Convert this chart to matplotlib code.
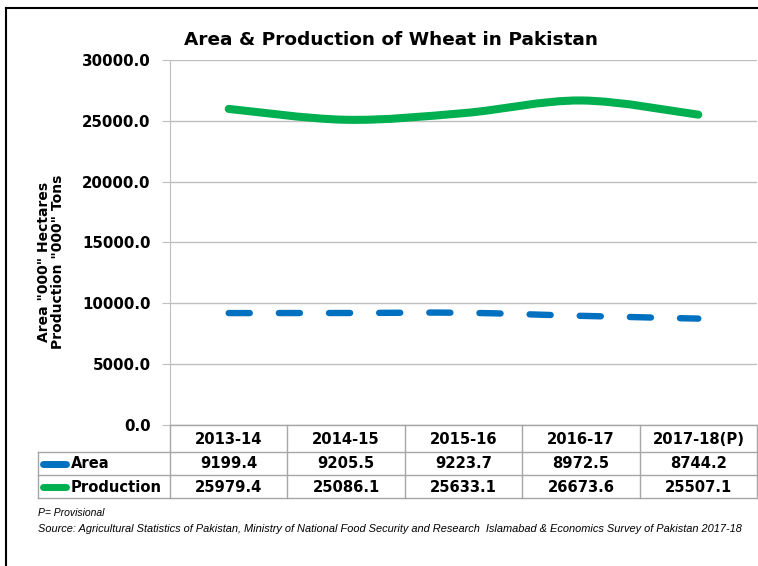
import numpy as np
import matplotlib
matplotlib.use("Agg")
import matplotlib.pyplot as plt
from matplotlib.path import Path
from matplotlib.patches import PathPatch
from matplotlib.lines import Line2D

years = ["2013-14", "2014-15", "2015-16", "2016-17", "2017-18(P)"]
area = [9199.4, 9205.5, 9223.7, 8972.5, 8744.2]
production = [25979.4, 25086.1, 25633.1, 26673.6, 25507.1]
series_names = ["Area", "Production"]
yticks = [0, 5000, 10000, 15000, 20000, 25000, 30000]

blue = "#0070c0"
green = "#00b050"
grid = "#bfbfbf"


def smooth_path(xs, ys):
    # catmull-rom style bezier through the points (like Excel's smoothed line)
    pts = np.column_stack([xs, ys]).astype(float)
    n = len(pts)
    verts = [pts[0]]
    codes = [Path.MOVETO]
    for i in range(n - 1):
        p0 = pts[i - 1] if i > 0 else pts[i]
        p1 = pts[i]
        p2 = pts[i + 1]
        p3 = pts[i + 2] if i + 2 < n else pts[i + 1]
        c1 = p1 + (p2 - p0) / 6.0
        c2 = p2 - (p3 - p1) / 6.0
        verts += [c1, c2, p2]
        codes += [Path.CURVE4] * 3
    return Path(verts, codes)


fig = plt.figure(figsize=(7.58, 5.66), dpi=100)
ax = fig.add_axes([170 / 758, 1 - 425 / 566, 587 / 758, 365 / 566])

x = np.arange(len(years))
prod_patch = PathPatch(smooth_path(x, production), fill=False, edgecolor=green,
                       lw=5.8, capstyle="round", joinstyle="round")
area_patch = PathPatch(smooth_path(x, area), fill=False, edgecolor=blue,
                       lw=4.6, capstyle="round", linestyle=(0, (3.3, 4.55)))
ax.add_patch(prod_patch)
ax.add_patch(area_patch)

ax.set_xlim(-0.5, len(years) - 0.5)
ax.set_ylim(0, 30000)
ax.set_yticks(yticks)
ax.set_yticklabels(["%.1f" % v for v in yticks], fontsize=10.8, fontweight="bold")
ax.set_xticks([])
ax.yaxis.grid(True, color=grid, lw=1)
ax.set_axisbelow(True)
for s in ["top", "right", "bottom"]:
    ax.spines[s].set_visible(False)
ax.spines["left"].set_color(grid)
ax.tick_params(axis="y", color=grid, length=6, pad=8)

fig.text(391 / 758, 1 - 40 / 566, "Area & Production of Wheat in Pakistan",
         ha="center", va="center", fontsize=13.3, fontweight="bold")
fig.text(51 / 758, 1 - 262 / 566, 'Area "000" Hectares\nProduction "000" Tons',
         ha="center", va="center", rotation=90, fontsize=10, fontweight="bold",
         linespacing=1.05)

# data table under the chart
def fy(py):
    return 1 - py / 566


def fx(px):
    return px / 758


col_edges = [170, 287, 405, 522, 640, 757]
row_y = [428, 452, 475, 498]
lc = "#a6a6a6"
for cx in col_edges:
    fig.add_artist(Line2D([fx(cx), fx(cx)], [fy(425), fy(498)], color=lc, lw=1))
fig.add_artist(Line2D([fx(38), fx(38)], [fy(452), fy(498)], color=lc, lw=1))
fig.add_artist(Line2D([fx(170), fx(757)], [fy(425), fy(425)], color=lc, lw=1))
for ry in row_y[1:]:
    fig.add_artist(Line2D([fx(38), fx(757)], [fy(ry), fy(ry)], color=lc, lw=1))

centers = [(col_edges[i] + col_edges[i + 1]) / 2 for i in range(len(years))]
for i, yr in enumerate(years):
    fig.text(fx(centers[i]), fy(440), yr, ha="center", va="center",
             fontsize=10.6, fontweight="bold")
    fig.text(fx(centers[i]), fy(464), "%.1f" % area[i], ha="center", va="center",
             fontsize=10.6, fontweight="bold")
    fig.text(fx(centers[i]), fy(487), "%.1f" % production[i], ha="center", va="center",
             fontsize=10.6, fontweight="bold")

for name, col, ry in zip(series_names, [blue, green], [464, 487]):
    fig.add_artist(Line2D([fx(43), fx(66)], [fy(ry), fy(ry)], color=col, lw=5,
                          solid_capstyle="round"))
    fig.text(fx(71), fy(ry), name, ha="left", va="center", fontsize=10.6,
             fontweight="bold")

fig.text(fx(38), fy(513), "P= Provisional", ha="left", va="center",
         fontsize=7.5, style="italic", family="Liberation Sans")
fig.text(fx(38), fy(529),
         "Source: Agricultural Statistics of Pakistan, Ministry of National Food Security and Research  Islamabad & Economics Survey of Pakistan 2017-18",
         ha="left", va="center", fontsize=7.9, style="italic", family="Liberation Sans")

# outer frame
fig.add_artist(Line2D([fx(6), fx(758)], [fy(8), fy(8)], color="black", lw=1.5))
fig.add_artist(Line2D([fx(6), fx(6)], [fy(8), 0], color="black", lw=1.5))

fig.savefig("out.png", dpi=100)
